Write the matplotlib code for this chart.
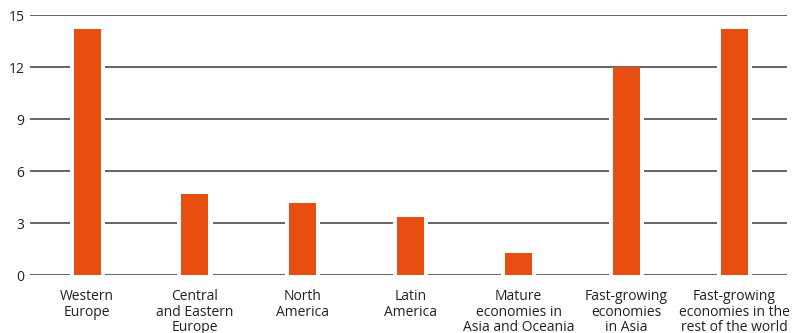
import matplotlib
matplotlib.use("Agg")
import matplotlib.pyplot as plt

categories = ["Western\nEurope", "Central\nand Eastern\nEurope", "North\nAmerica", "Latin\nAmerica",
              "Mature\neconomies in\nAsia and Oceania", "Fast-growing\neconomies\nin Asia",
              "Fast-growing\neconomies in the\nrest of the world"]
values = [14.2, 4.7, 4.2, 3.4, 1.3, 12.0, 14.2]
yticks = [0, 3, 6, 9, 12, 15]

plt.rcParams['font.family'] = ['Open Sans', 'DejaVu Sans']

fig = plt.figure(figsize=(7.95, 3.33), dpi=100)
ax = fig.add_axes([0.0377, 0.1727, 0.9523, 0.7808])

x = list(range(len(categories)))
for yt in yticks:
    ax.axhline(yt, color='#3a3a3a', linewidth=1.1, zorder=1)
ax.bar(x, [v + 0.12 for v in values], bottom=-0.2, width=0.325, color='white', zorder=2)
ax.bar(x, values, width=0.25, color='#E84E10', zorder=3)

ax.set_xlim(-0.53, 6.49)
ax.set_ylim(0, 15)
ax.set_yticks(yticks)
ax.set_xticks(x)
ax.set_xticklabels(categories, fontsize=10, color='#222222', linespacing=1.03)
ax.tick_params(axis='x', length=0, pad=10)
ax.tick_params(axis='y', length=0, pad=4, labelsize=10, labelcolor='#222222')
for s in ax.spines.values():
    s.set_visible(False)

fig.savefig("out.png", dpi=100)
